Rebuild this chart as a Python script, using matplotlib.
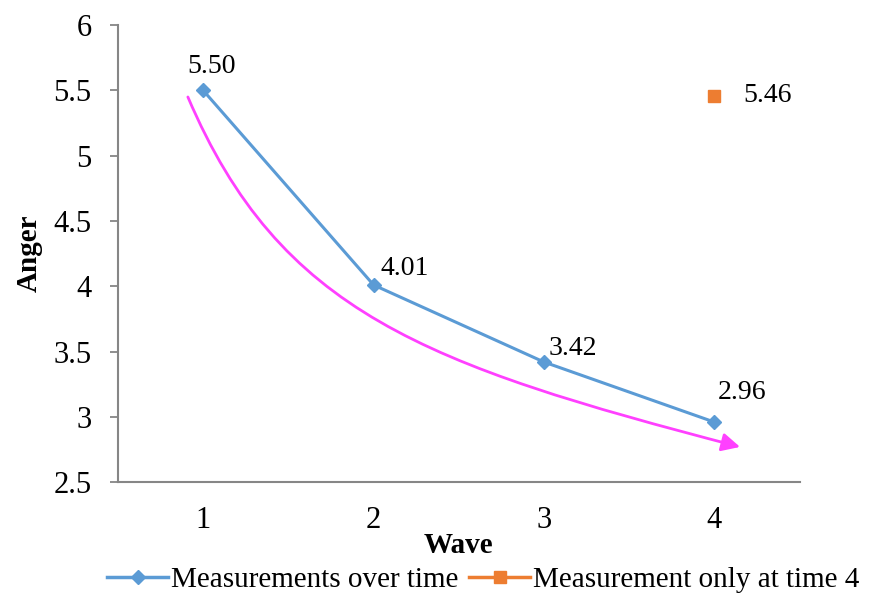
import matplotlib.pyplot as plt
from matplotlib.lines import Line2D
from matplotlib.patches import FancyArrowPatch
from matplotlib.path import Path

plt.rcParams['font.family'] = ['Liberation Serif', 'DejaVu Serif']

# Anger scores per wave
waves = [1, 2, 3, 4]
anger = [5.50, 4.01, 3.42, 2.96]
# Single measurement taken only at wave 4
wave_only = [4]
anger_only = [5.46]

# Trend arrow (cubic Bezier control points, data coordinates)
trend_x = [0.91, 1.45, 2.3, 4.15]
trend_y = [5.45, 3.8, 3.4, 2.77]

blue = '#5B9BD5'
orange = '#ED7D31'
pink = '#FF40FF'
grey = '#868686'

fig = plt.figure(figsize=(8.74, 5.99), dpi=100)
ax = fig.add_axes([0.135, 0.195, 0.78, 0.763])

ax.plot(waves, anger, color=blue, lw=2.2, marker='D', ms=7.5, zorder=3)
ax.plot(wave_only, anger_only, color=orange, ls='none', marker='s', ms=8, zorder=3)

# label offsets in points, nudged like the original data labels
label_offsets = [(6, 17), (22, 12), (21, 10), (20, 21)]
for x, y, off in zip(waves, anger, label_offsets):
    ax.annotate(f'{y:.2f}', (x, y), xytext=off, textcoords='offset points',
                ha='center', va='center', fontsize=20)
ax.annotate(f'{anger_only[0]:.2f}', (wave_only[0], anger_only[0]), xytext=(21, 0),
            textcoords='offset points', ha='left', va='center', fontsize=20)

trend = Path(list(zip(trend_x, trend_y)),
             [Path.MOVETO, Path.CURVE4, Path.CURVE4, Path.CURVE4])
ax.add_patch(FancyArrowPatch(path=trend, arrowstyle='-|>,head_length=11,head_width=5.5',
                             color=pink, lw=2, zorder=2))

ax.set_xlim(0.5, 4.5)
ax.set_ylim(2.5, 6)
ax.set_xticks(waves)
ax.set_yticks([2.5, 3, 3.5, 4, 4.5, 5, 5.5, 6])
ax.set_yticklabels(['2.5', '3', '3.5', '4', '4.5', '5', '5.5', '6'])
ax.tick_params(axis='y', length=6, width=1.3, color=grey, labelsize=22, pad=13)
ax.tick_params(axis='x', length=0, labelsize=22, pad=17)

for side in ['top', 'right']:
    ax.spines[side].set_visible(False)
for side in ['left', 'bottom']:
    ax.spines[side].set_color(grey)
    ax.spines[side].set_linewidth(1.5)

ax.set_xlabel('Wave', fontsize=21, fontweight='bold', labelpad=-2)
ax.set_ylabel('Anger', fontsize=21, fontweight='bold', labelpad=8)

handles = [
    Line2D([], [], color=blue, lw=2.5, marker='D', ms=7.5),
    Line2D([], [], color=orange, lw=2.5, marker='s', ms=9),
]
fig.legend(handles, ['Measurements over time', 'Measurement only at time 4'],
           loc='center', bbox_to_anchor=(0.553, 0.032), ncol=2, frameon=False,
           fontsize=21, handlelength=2.1, handletextpad=0.1, columnspacing=0.35,
           borderaxespad=0)

fig.savefig('out.png', dpi=100)
